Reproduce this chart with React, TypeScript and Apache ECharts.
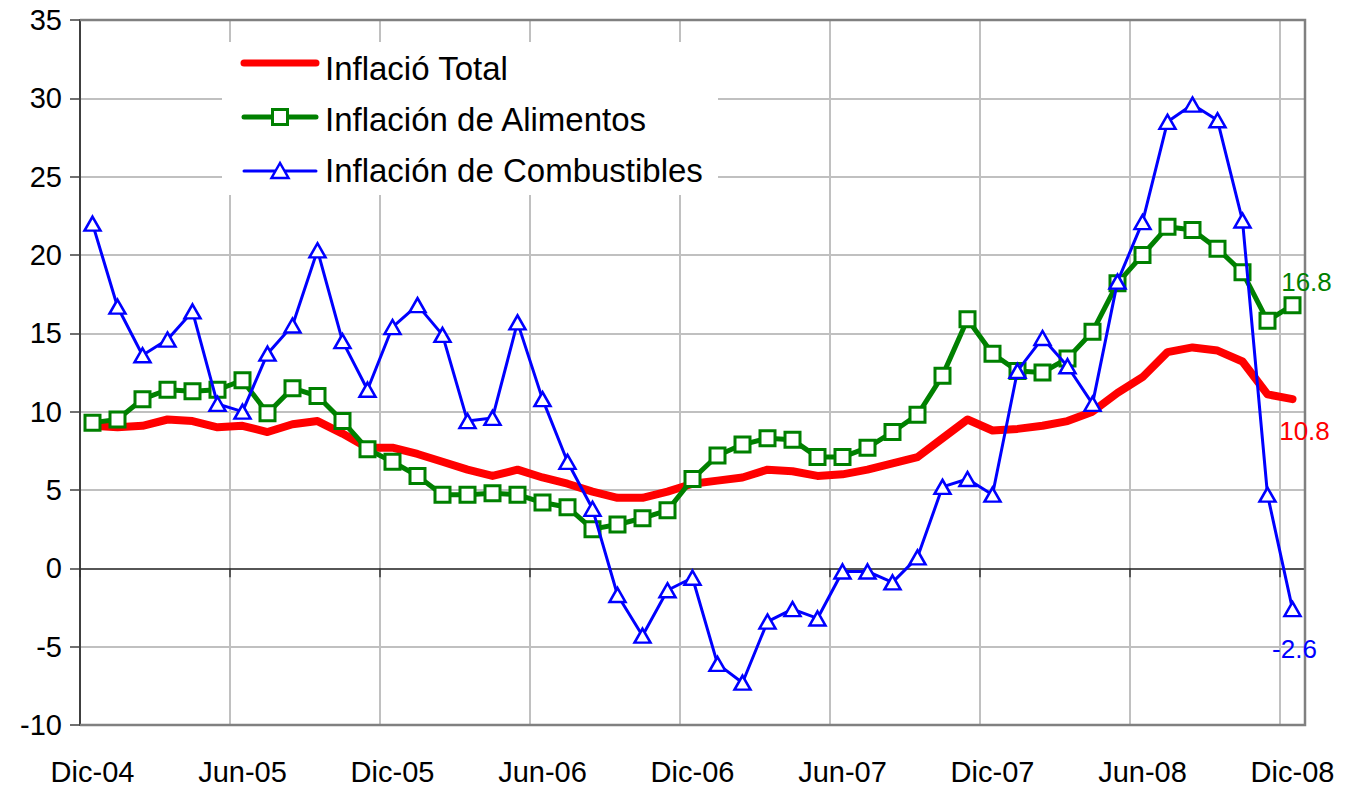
import React, { useEffect, useRef } from "react";
import * as echarts from "echarts";

const months: string[] = [
  "Dic-04", "Ene-05", "Feb-05", "Mar-05", "Abr-05", "May-05", "Jun-05", "Jul-05", "Ago-05", "Sep-05", "Oct-05", "Nov-05",
  "Dic-05", "Ene-06", "Feb-06", "Mar-06", "Abr-06", "May-06", "Jun-06", "Jul-06", "Ago-06", "Sep-06", "Oct-06", "Nov-06",
  "Dic-06", "Ene-07", "Feb-07", "Mar-07", "Abr-07", "May-07", "Jun-07", "Jul-07", "Ago-07", "Sep-07", "Oct-07", "Nov-07",
  "Dic-07", "Ene-08", "Feb-08", "Mar-08", "Abr-08", "May-08", "Jun-08", "Jul-08", "Ago-08", "Sep-08", "Oct-08", "Nov-08",
  "Dic-08",
];

const inflacionTotal: number[] = [
  9.1, 9.0, 9.1, 9.5, 9.4, 9.0, 9.1, 8.7, 9.2, 9.4, 8.6, 7.7,
  7.7, 7.3, 6.8, 6.3, 5.9, 6.3, 5.8, 5.4, 4.9, 4.5, 4.5, 4.9,
  5.4, 5.6, 5.8, 6.3, 6.2, 5.9, 6.0, 6.3, 6.7, 7.1, 8.3, 9.5,
  8.8, 8.9, 9.1, 9.4, 10.0, 11.2, 12.2, 13.8, 14.1, 13.9, 13.2, 11.1,
  10.8,
];

const inflacionAlimentos: number[] = [
  9.3, 9.5, 10.8, 11.4, 11.3, 11.4, 12.0, 9.9, 11.5, 11.0, 9.4, 7.6,
  6.8, 5.9, 4.7, 4.7, 4.8, 4.7, 4.2, 3.9, 2.5, 2.8, 3.2, 3.7,
  5.7, 7.2, 7.9, 8.3, 8.2, 7.1, 7.1, 7.7, 8.7, 9.8, 12.3, 15.9,
  13.7, 12.6, 12.5, 13.4, 15.1, 18.2, 20.0, 21.8, 21.6, 20.4, 18.9, 15.8,
  16.8,
];

const inflacionCombustibles: number[] = [
  22.0, 16.7, 13.6, 14.6, 16.4, 10.5, 10.0, 13.7, 15.5, 20.3, 14.5, 11.4,
  15.4, 16.8, 14.9, 9.4, 9.6, 15.7, 10.8, 6.8, 3.8, -1.7, -4.3, -1.4,
  -0.6, -6.1, -7.3, -3.4, -2.6, -3.2, -0.2, -0.2, -0.9, 0.7, 5.2, 5.7,
  4.7, 12.6, 14.7, 12.9, 10.5, 18.3, 22.1, 28.5, 29.6, 28.6, 22.2, 4.7,
  -2.6,
];

const seriesNames: string[] = ["Inflació Total", "Inflación de Alimentos", "Inflación de Combustibles"];
const seriesColors: string[] = ["#ff0000", "#008000", "#0000ff"];

const FONT = "'Liberation Sans', Arial, sans-serif";

function withEndLabel(vals: number[], color: string, offset: number[]) {
  return vals.map((v, i) =>
    i === vals.length - 1
      ? {
          value: v,
          label: {
            show: true,
            position: "inside",
            offset,
            color,
            fontSize: 26,
            fontFamily: FONT,
            formatter: (p: any) => Number(p.value).toFixed(1),
          },
        }
      : v
  );
}

export default function App() {
  const ref = useRef<HTMLDivElement>(null);

  useEffect(() => {
    if (!ref.current) return;
    const chart = echarts.init(ref.current, undefined, { renderer: "svg" });

    const legendRows = [63, 117, 171];
    const legendTextY = [68, 119, 170.5];

    const option: any = {
      animation: false,
      backgroundColor: "#ffffff",
      grid: { left: 80, right: 44, top: 20, bottom: 62, show: false },
      xAxis: [
        {
          type: "category",
          data: months,
          boundaryGap: true,
          position: "bottom",
          axisLine: { show: false, onZero: false },
          axisTick: { show: false },
          axisLabel: {
            interval: 5,
            fontSize: 29,
            fontFamily: FONT,
            color: "#000",
            margin: 32,
          },
          splitLine: {
            show: true,
            interval: 5,
            showMinLine: false,
            lineStyle: { color: "#c0c0c0", width: 2 },
          },
        },
        {
          type: "category",
          data: months,
          boundaryGap: true,
          position: "bottom",
          axisLine: { show: true, onZero: true, lineStyle: { color: "#333333", width: 1.5 } },
          axisTick: { show: true, interval: 5, length: 9, lineStyle: { color: "#333333", width: 1.5 } },
          axisLabel: { show: false },
          splitLine: { show: false },
        },
      ],
      yAxis: {
        type: "value",
        min: -10,
        max: 35,
        interval: 5,
        axisLine: { show: true, lineStyle: { color: "#404040", width: 2 } },
        axisTick: { show: true, length: 10, lineStyle: { color: "#404040", width: 1.5 } },
        axisLabel: { fontSize: 29, fontFamily: FONT, color: "#000", margin: 18 },
        splitLine: { show: true, lineStyle: { color: "#c0c0c0", width: 2 } },
      },
      series: [
        {
          name: seriesNames[0],
          type: "line",
          data: withEndLabel(inflacionTotal, seriesColors[0], [12, 32]),
          symbol: "circle",
          symbolSize: 1,
          showAllSymbol: true,
          itemStyle: { color: seriesColors[0] },
          lineStyle: { color: seriesColors[0], width: 8, cap: "round", join: "round" },
          z: 2,
        },
        {
          name: seriesNames[1],
          type: "line",
          data: withEndLabel(inflacionAlimentos, seriesColors[1], [14, -23]),
          symbol: "rect",
          symbolSize: 15,
          showAllSymbol: true,
          itemStyle: { color: "#ffffff", borderColor: seriesColors[1], borderWidth: 3 },
          lineStyle: { color: seriesColors[1], width: 5, cap: "round", join: "round" },
          z: 3,
        },
        {
          name: seriesNames[2],
          type: "line",
          data: withEndLabel(inflacionCombustibles, seriesColors[2], [2, 40]),
          symbol: "triangle",
          symbolSize: [16, 14],
          showAllSymbol: true,
          itemStyle: { color: "#ffffff", borderColor: seriesColors[2], borderWidth: 2.5 },
          lineStyle: { color: seriesColors[2], width: 3, join: "round" },
          z: 4,
        },
      ],
      graphic: [
        {
          type: "polyline",
          z: 1,
          shape: { points: [[80, 20], [1305, 20], [1305, 725], [80, 725]] },
          style: { stroke: "#808080", lineWidth: 2.5, fill: null },
          silent: true,
        },
        {
          type: "rect",
          z: 10,
          shape: { x: 222, y: 42, width: 496, height: 153 },
          style: { fill: "#ffffff", stroke: null },
        },
        {
          type: "line",
          z: 11,
          shape: { x1: 244, y1: legendRows[0], x2: 316, y2: legendRows[0] },
          style: { stroke: seriesColors[0], lineWidth: 7, lineCap: "round" },
        },
        {
          type: "line",
          z: 11,
          shape: { x1: 244, y1: legendRows[1], x2: 316, y2: legendRows[1] },
          style: { stroke: seriesColors[1], lineWidth: 5, lineCap: "round" },
        },
        {
          type: "rect",
          z: 12,
          shape: { x: 272.5, y: legendRows[1] - 7.5, width: 15, height: 15 },
          style: { fill: "#ffffff", stroke: seriesColors[1], lineWidth: 3 },
        },
        {
          type: "line",
          z: 11,
          shape: { x1: 244, y1: legendRows[2], x2: 316, y2: legendRows[2] },
          style: { stroke: seriesColors[2], lineWidth: 3, lineCap: "round" },
        },
        {
          type: "polygon",
          z: 12,
          shape: {
            points: [
              [280, legendRows[2] - 8],
              [271.5, legendRows[2] + 7],
              [288.5, legendRows[2] + 7],
            ],
          },
          style: { fill: "#ffffff", stroke: seriesColors[2], lineWidth: 2.5 },
        },
        ...seriesNames.map((n, i) => ({
          type: "text",
          z: 12,
          x: 325,
          y: legendTextY[i],
          style: {
            text: n,
            fontSize: 33,
            fontFamily: FONT,
            fill: "#000000",
            verticalAlign: "middle",
            align: "left",
          },
        })),
      ],
    };

    chart.setOption(option);
    return () => chart.dispose();
  }, []);

  return (
    <div
      ref={ref}
      style={{ position: "fixed", left: 0, top: 0, width: 1349, height: 787, background: "#fff" }}
    />
  );
}
